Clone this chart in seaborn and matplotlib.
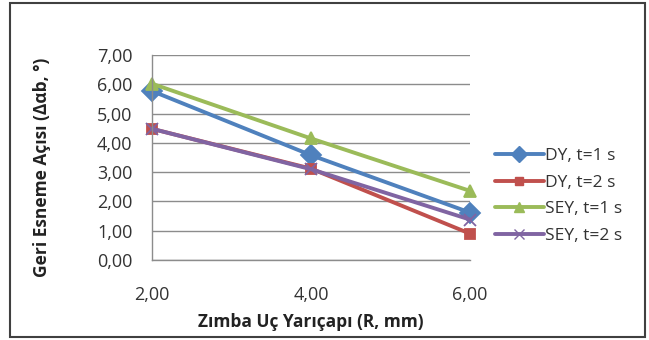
import matplotlib
matplotlib.use("Agg")
import matplotlib.pyplot as plt
import matplotlib.patches as mpatches
import seaborn as sns
import pandas as pd

# Data
radius = [2.0, 4.0, 6.0]
series_names = ["DY, t=1 s", "DY, t=2 s", "SEY, t=1 s", "SEY, t=2 s"]
dy_t1 = [5.77, 3.58, 1.62]
dy_t2 = [4.48, 3.12, 0.90]
sey_t1 = [6.02, 4.15, 2.36]
sey_t2 = [4.48, 3.10, 1.38]
x_tick_labels = ["2,00", "4,00", "6,00"]
y_ticks = [0, 1, 2, 3, 4, 5, 6, 7]
y_tick_labels = ["0,00", "1,00", "2,00", "3,00", "4,00", "5,00", "6,00", "7,00"]
x_label = "Zımba Uç Yarıçapı (R, mm)"
y_label = "Geri Esneme Açısı (Δαb, °)"

values = [dy_t1, dy_t2, sey_t1, sey_t2]

sns.set_theme(style="white")
plt.rcParams["font.family"] = ["Open Sans", "DejaVu Sans"]

colors = ["#4F81BD", "#C0504D", "#9BBB59", "#8064A2"]
markers = ["D", "s", "^", "x"]
msizes = [10, 7.5, 8.5, 9]

fig = plt.figure(figsize=(6.49, 3.40), dpi=100)
ax = fig.add_axes([152/649, 1-260/340, (470-152)/649, (260-55)/340])

for name, vals, c, m, ms in zip(series_names, values, colors, markers, msizes):
    d = pd.DataFrame({"R": radius, "val": vals})
    sns.lineplot(data=d, x="R", y="val", color=c, marker=m, markersize=ms,
                 markeredgecolor=c, markerfacecolor=c, markeredgewidth=1.3,
                 linewidth=2.8, ax=ax, legend=False, clip_on=False)

ax.set_xlim(2, 6)
ax.set_ylim(0, 7)
ax.set_xticks(radius)
ax.set_xticklabels(x_tick_labels)
ax.set_yticks(y_ticks)
ax.set_yticklabels(y_tick_labels)
ax.tick_params(axis="both", length=0, labelsize=13, colors="#333333")
ax.tick_params(axis="x", pad=19)
ax.tick_params(axis="y", pad=14)
ax.yaxis.grid(True, color="#8C8C8C", linewidth=1.0)
ax.xaxis.grid(False)
ax.set_axisbelow(True)
for s in ["top", "right"]:
    ax.spines[s].set_visible(False)
for s in ["left", "bottom"]:
    ax.spines[s].set_color("#8C8C8C")
    ax.spines[s].set_linewidth(1.0)

ax.set_xlabel(x_label, fontsize=12.5, fontweight="bold", color="#222222")
ax.set_ylabel(y_label, fontsize=12.5, fontweight="bold", color="#222222")
ax.xaxis.set_label_coords(0.5, (260-322)/205)
ax.yaxis.set_label_coords((42-152)/318, 0.45)
ax.xaxis.label.set_va("center")
ax.yaxis.label.set_va("center")

handles = [plt.Line2D([], [], color=c, marker=m, markersize=ms*0.8, linewidth=2.8,
                      markeredgecolor=c, markerfacecolor=c)
           for c, m, ms in zip(colors, markers, msizes)]
leg = fig.legend(handles, series_names, loc="upper left",
                 bbox_to_anchor=(488/649, 1-141/340), frameon=False,
                 fontsize=12.5, handlelength=2.8, handletextpad=0.1,
                 labelspacing=0.6, borderaxespad=0)
for t in leg.get_texts():
    t.set_color("#333333")

frame = mpatches.Rectangle((10/649, 3/340), (645-10)/649, (337-3)/340,
                           transform=fig.transFigure, fill=False,
                           edgecolor="#404040", linewidth=1.5)
fig.patches.append(frame)

fig.savefig("out.png", dpi=100)
